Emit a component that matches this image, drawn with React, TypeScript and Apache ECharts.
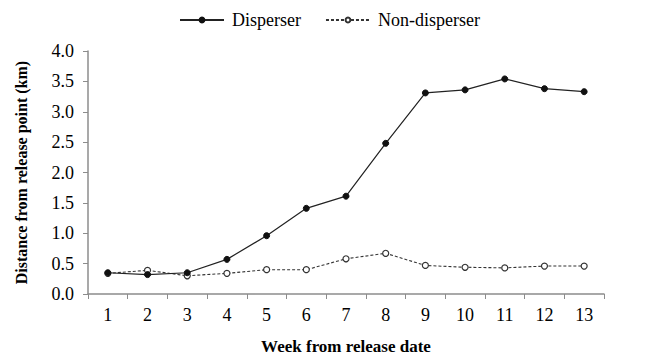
import React, { useEffect, useRef } from "react";
import * as echarts from "echarts";

const weeks = ["1", "2", "3", "4", "5", "6", "7", "8", "9", "10", "11", "12", "13"];
const disperser = [0.35, 0.32, 0.35, 0.57, 0.96, 1.41, 1.61, 2.48, 3.31, 3.36, 3.54, 3.38, 3.33];
const nonDisperser = [0.34, 0.39, 0.3, 0.34, 0.4, 0.4, 0.58, 0.67, 0.47, 0.44, 0.43, 0.46, 0.46];

const FONT = "Liberation Serif, Times New Roman, serif";

export default function App() {
  const ref = useRef<HTMLDivElement>(null);
  useEffect(() => {
    if (!ref.current) return;
    const chart = echarts.init(ref.current, null, { renderer: "svg" });
    const txt = { fontFamily: FONT, fontSize: 18, fontWeight: "normal", color: "#000" };
    chart.setOption({
      animation: false,
      backgroundColor: "#ffffff",
      textStyle: { fontFamily: FONT, color: "#000" },
      legend: {
        top: 6,
        left: 174,
        itemWidth: 44,
        itemHeight: 6,
        itemGap: 24,
        textStyle: { ...txt, padding: [0, 0, 0, 3] },
        data: ["Disperser", "Non-disperser"],
      },
      grid: { left: 88, right: 42, top: 51, bottom: 55, containLabel: false },
      xAxis: {
        type: "category",
        data: weeks,
        boundaryGap: true,
        name: "Week from release date",
        nameLocation: "middle",
        nameGap: 44,
        nameTextStyle: { fontFamily: FONT, fontSize: 17, fontWeight: "bold", color: "#000" },
        axisLine: { lineStyle: { color: "#8c8c8c", width: 1.5 } },
        axisTick: { show: true, length: 5, lineStyle: { color: "#8c8c8c" } },
        axisLabel: { ...txt, margin: 12 },
      },
      yAxis: {
        type: "value",
        min: 0,
        max: 4,
        interval: 0.5,
        name: "Distance from release point (km)",
        nameLocation: "middle",
        nameGap: 59,
        nameTextStyle: { fontFamily: FONT, fontSize: 16, fontWeight: "bold", color: "#000" },
        axisLine: { show: true, lineStyle: { color: "#8c8c8c", width: 1.5 } },
        axisTick: { show: true, length: 5, lineStyle: { color: "#8c8c8c" } },
        splitLine: { show: false },
        axisLabel: {
          ...txt,
          margin: 14,
          formatter: (v: number) => v.toFixed(1),
        },
      },
      series: [
        {
          name: "Disperser",
          type: "line",
          data: disperser,
          symbol: "circle",
          symbolSize: 6,
          itemStyle: { color: "#111", borderColor: "#111", borderWidth: 1 },
          lineStyle: { color: "#222", width: 1.2, type: "solid" },
          z: 3,
        },
        {
          name: "Non-disperser",
          type: "line",
          data: nonDisperser,
          symbol: "circle",
          symbolSize: 6,
          itemStyle: { color: "#ffffff", borderColor: "#333", borderWidth: 1.2 },
          lineStyle: { color: "#333", width: 1.1, type: [3, 2] },
          z: 2,
        },
      ],
    });
    return () => chart.dispose();
  }, []);
  return (
    <div
      ref={ref}
      style={{ position: "absolute", left: 0, top: 0, width: 646, height: 360 }}
    />
  );
}
